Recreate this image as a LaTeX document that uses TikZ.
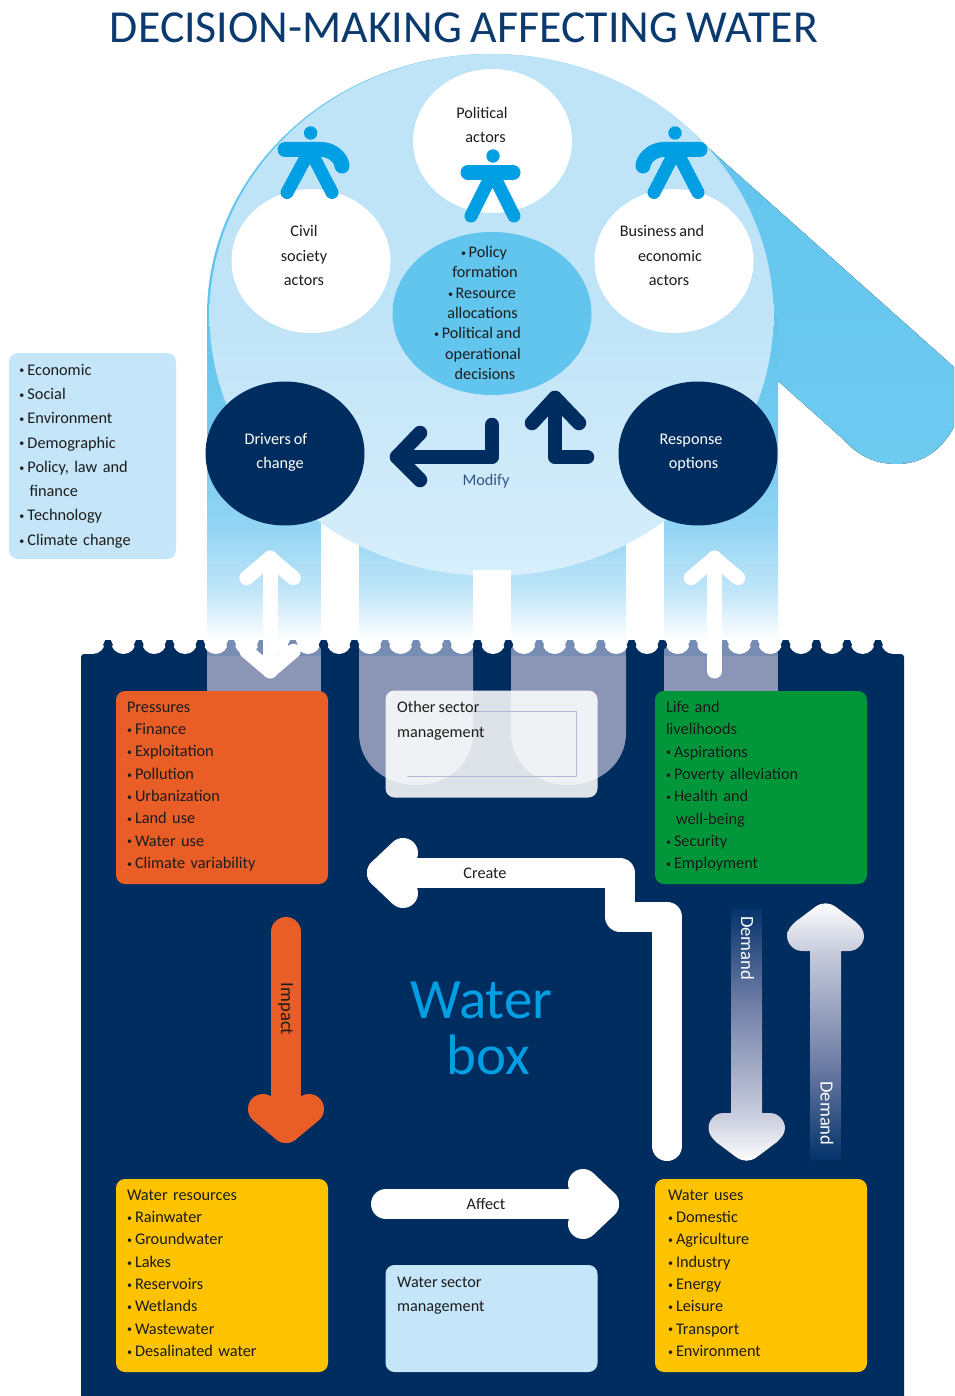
\documentclass[tikz,border=0pt]{standalone}
\usepackage{fontspec}
\setmainfont[WordSpace=0.85]{Carlito}
\usetikzlibrary{shapes.geometric}
\definecolor{navy}{HTML}{002D5F}
\definecolor{titleblue}{HTML}{0B3A6E}
\definecolor{skyA}{HTML}{62C5EE}
\definecolor{skyB}{HTML}{BFE4F7}
\definecolor{skyC}{HTML}{D8EEFB}
\definecolor{paleblue}{HTML}{C5E6F8}
\definecolor{person}{HTML}{009FE3}
\definecolor{orangeb}{HTML}{E95E26}
\definecolor{greenb}{HTML}{009639}
\definecolor{yellowb}{HTML}{FDC300}
\definecolor{tintA}{HTML}{8B96B6}
\definecolor{tintB}{HTML}{778DB3}
\definecolor{inkd}{HTML}{1C1C1C}
\definecolor{boxline}{HTML}{B0BCD4}
\definecolor{gA}{HTML}{C0E5F8}
\definecolor{gB}{HTML}{92D4F3}
\definecolor{gC}{HTML}{74CAF0}
\definecolor{dA}{HTML}{C8CCDC}
\definecolor{dB}{HTML}{6D7BA4}
\definecolor{dC}{HTML}{03336A}
\pgfdeclareverticalshading{colgrad}{100bp}{color(0bp)=(white); color(25bp)=(white); color(32.7bp)=(gA); color(42.7bp)=(gB); color(55.8bp)=(gC); color(75bp)=(skyA); color(100bp)=(skyA)}
\pgfdeclareverticalshading{demdown}{100bp}{color(0bp)=(white); color(25bp)=(white); color(34.5bp)=(dA); color(56.8bp)=(dB); color(75bp)=(dC); color(100bp)=(dC)}
\pgfdeclareverticalshading{demup}{100bp}{color(0bp)=(dC); color(25bp)=(dC); color(43.2bp)=(dB); color(65.5bp)=(dA); color(75bp)=(white); color(100bp)=(white)}
\newcommand\bul{\makebox[8pt][l]{\raisebox{1.2pt}{\fontsize{10}{10}\selectfont •}}}
\newcommand\cbul{\raisebox{1.2pt}{\fontsize{10}{10}\selectfont •}\,}
\tikzset{
  listbox/.style={rectangle,rounded corners=9pt,inner sep=0pt,align=left,text=inkd,anchor=center,font=\fontsize{16.3}{22.3}\selectfont},
  rowbox/.style={listbox,minimum width=212pt,minimum height=193pt,text width=190pt,execute at begin node={\rule{0pt}{11pt}},execute at end node={\rule[-5.2pt]{0pt}{0pt}}},
  oval/.style={ellipse,inner sep=0pt,minimum width=159pt,minimum height=144pt},
  lab/.style={inner sep=0pt,text=inkd,align=center,font=\fontsize{16.2}{24.2}\selectfont},
  tag/.style={inner sep=0pt,text=inkd,font=\fontsize{16.2}{18}\selectfont},
  sidetag/.style={inner sep=0pt,rotate=-90,font=\fontsize{18.6}{20}\selectfont},
  fatline/.style={line width=30pt,line cap=round,line join=round},
  thinarrow/.style={line width=14.5pt,line cap=round,line join=round},
  limb/.style={draw=person,line width=13pt,line cap=round,line join=round},
  bar/.style={draw=person,line width=15pt,line cap=round,line join=round}
}
\begin{document}
\begin{tikzpicture}[x=1pt,y=-1pt]
\useasboundingbox (0,0) rectangle (954,1396);
\fill[white] (0,0) rectangle (954,1396);
% sky shape behind the big disc
\fill[skyA] (490.5,315) ellipse [x radius=283.5,y radius=261];
\fill[top color=skyA,bottom color=skyA!92!white] (704,144) -- (954,367) -- (954,427) .. controls (942,450) and (922,464) .. (897,464) .. controls (878,464) and (860,458) .. (844,440) -- (778,381) -- (700,381) -- cycle;
\fill[shading=colgrad] (207,315) rectangle (778,640);
\fill[white] (321,480) rectangle (359,641);
\fill[white] (626,480) rectangle (664,641);
\node[ellipse,inner sep=0pt,minimum width=564pt,minimum height=522pt,top color=skyB,bottom color=skyC,middle color=skyB] (disc) at (491.5,315) {};
\fill[white] (473,570) rectangle (511,641);
% water
\fill[navy,rounded corners=3pt] (81,654) rectangle (904,1410);
\fill[navy] (92.6,640) rectangle (893.4,660);
\fill[tintB] (207,640) rectangle (321,656);
\fill[tintB] (664,640) rectangle (778,656);
\fill[tintB] (359,640) rectangle (473,656);
\fill[tintB] (511,640) rectangle (626,656);
\fill[tintA] (207,656) rectangle (321,692);
\fill[tintA] (664,656) rectangle (778,692);
\fill[tintA] (359,656) -- (359,733) .. controls (359,764) and (385,785) .. (416,785) .. controls (447,785) and (473,764) .. (473,733) -- (473,656) -- cycle;
\fill[tintA] (511,656) -- (511,733) .. controls (511,764) and (537,785) .. (568,785) .. controls (599,785) and (626,764) .. (626,733) -- (626,656) -- cycle;
\begin{scope}
\clip (70,640) rectangle (915,660);
\foreach \k in {-8,...,18} \fill[white] ({339+30.8*\k},641.5) circle [radius=12.5];
\end{scope}
\foreach \k in {-8,-7,-6,-5,-1,0,4,5,9,10,14,15,16,17} \fill[navy] ({354.4+30.8*\k},644.8) circle [radius=4.8];
\foreach \k in {-4,-3,-2,1,2,3,6,7,8,11,12,13} \fill[tintB] ({354.4+30.8*\k},644.8) circle [radius=4.8];
% title
\node[inner sep=0pt,text=titleblue,font=\fontsize{45.8}{46}\selectfont] (title) at (464,28) {DECISION-MAKING AFFECTING WATER};
% ovals
\node[oval,fill=white] (political) at (492.5,141) {};
\node[oval,fill=white] (civil) at (311,261) {};
\node[oval,fill=white] (business) at (674,261) {};
\node[ellipse,inner sep=0pt,minimum width=199pt,minimum height=163pt,fill=skyA] (decisions) at (492,313.5) {};
\node[oval,fill=navy] (drivers) at (285,453.5) {};
\node[oval,fill=navy] (response) at (698,453.5) {};
% persons
\fill[person] (493,156) circle [radius=6.7];
\draw[bar] (468,172.5) -- (513,172.5);
\draw[limb] (471,216) -- (492.5,173) -- (514,216);
\fill[person] (310.6,133) circle [radius=6.7];
\draw[bar] (285,149.5) -- (322,149.5) .. controls (334,150) and (342,160) .. (342,166);
\draw[limb] (287,192.5) -- (310,150) -- (332,192.5);
\fill[person] (675,133) circle [radius=6.7];
\draw[bar] (700,149.5) -- (663,149.5) .. controls (651,150) and (643,160) .. (643,166);
\draw[limb] (654,192.5) -- (676,150) -- (698,192.5);
% oval labels
\node[lab] (politicalT) at (484,125) {\hspace*{-4pt}Political\\\hspace*{3pt}actors};
\node[lab] (civilT) at (304,255.5) {Civil\\society\\actors};
\node[lab] (businessT) at (668,255.5) {\hspace*{-12pt}Business and\\\hspace*{4pt}economic\\\hspace*{2pt}actors};
\node[lab,font=\fontsize{16.2}{20.3}\selectfont] (decisionsT) at (483,313) {\hspace*{2pt}\cbul Policy\\\hspace*{4pt}formation\\\hspace*{-2pt}\cbul Resource\\\hspace*{-1pt}allocations\\\hspace*{-11pt}\cbul Political and\\operational\\\hspace*{4pt}decisions};
\node[lab,text=white] (driversT) at (278,452.5) {\hspace*{-4pt}Drivers of\\\hspace*{4pt}change};
\node[lab,text=white] (responseT) at (692,452.5) {\hspace*{-2pt}Response\\\hspace*{3pt}options};
% modify arrows
\coordinate (mA) at (492,425); \coordinate (mB) at (492,457); \coordinate (mC) at (397,457);
\draw[navy,thinarrow] (mA) -- (mB) -- (mC);
\draw[navy,thinarrow] (420,433) -- (mC) -- (420,480);
\coordinate (nA) at (587,457); \coordinate (nB) at (555,457); \coordinate (nC) at (555,398);
\draw[navy,thinarrow] (nA) -- (nB) -- (nC);
\draw[navy,thinarrow] (532,423) -- (nC) -- (579,423);
\node[tag,text=titleblue!85!white] (modify) at (486,481) {Modify};
% boxes
\node[listbox,fill=paleblue,minimum width=167pt,minimum height=206pt,text width=146pt,font=\fontsize{16.3}{24.3}\selectfont] (drivlist) at (92.5,456) {\bul Economic\\\bul Social\\\bul Environment\\\bul Demographic\\\bul Policy, law and\\\hspace*{10pt}finance\\\bul Technology\\\bul Climate change};
\node[rowbox,fill=orangeb] (pressures) at (222,787.5) {Pressures\\\bul Finance\\\bul Exploitation\\\bul Pollution\\\bul Urbanization\\\bul Land use\\\bul Water use\\\bul Climate variability};
\node[rowbox,fill=greenb] (life) at (761,787.5) {Life and\\livelihoods\\\bul Aspirations\\\bul Poverty alleviation\\\bul Health and\\\hspace*{10pt}well-being\\\bul Security\\\bul Employment};
\node[rowbox,fill=yellowb] (resources) at (222,1275.5) {Water resources\\\bul Rainwater\\\bul Groundwater\\\bul Lakes\\\bul Reservoirs\\\bul Wetlands\\\bul Wastewater\\\bul Desalinated water};
\node[rowbox,fill=yellowb,text width=186pt] (uses) at (761,1275.5) {Water uses\\\bul Domestic\\\bul Agriculture\\\bul Industry\\\bul Energy\\\bul Leisure\\\bul Transport\\\bul Environment};
\node[rectangle,rounded corners=9pt,inner sep=0pt,fill=paleblue,minimum width=212pt,minimum height=107pt] (watersector) at (491.5,1318.5) {};
\node[lab,align=left,anchor=north west] (watersectorT) at (397,1277) {Water sector\\management};
\node[rectangle,rounded corners=9pt,inner sep=0pt,fill=white,fill opacity=0.87,minimum width=212pt,minimum height=107pt] (othersector) at (491.5,744) {};
\draw[boxline,line width=0.7pt] (407,776) -- (576,776) -- (576,711) -- (470,711);
\node[lab,align=left,anchor=north west] (othersectorT) at (397,701.5) {Other sector\\management};
% white arrows across the surface
\coordinate (dnA) at (270,558); \coordinate (dnB) at (270,671);
\draw[white,line width=15pt,line cap=round] (dnA) -- (dnB);
\draw[white,thinarrow] (246.5,578) -- (dnA) -- (293.5,578);
\draw[white,thinarrow] (246.5,651) -- (dnB) -- (293.5,651);
\coordinate (rA) at (714.5,671); \coordinate (rB) at (714.5,558);
\draw[white,line width=15pt,line cap=round] (rA) -- (rB);
\draw[white,thinarrow] (691,578) -- (rB) -- (738,578);
% create
\coordinate (cA) at (667,1146); \coordinate (cB) at (667,916.5); \coordinate (cC) at (620,916.5); \coordinate (cD) at (620,873); \coordinate (cE) at (382,873);
\draw[white,fatline] (cA) -- (cB) -- (cC) -- (cD) -- (cE);
\draw[white,fatline] (403,853) -- (cE) -- (403,893);
\node[tag] (create) at (485,873) {Create};
% affect
\coordinate (aA) at (386,1204); \coordinate (aB) at (604,1204);
\draw[white,fatline] (aA) -- (aB);
\draw[white,fatline] (583,1184) -- (aB) -- (583,1224);
\node[tag] (affect) at (486,1204) {Affect};
% impact
\coordinate (iA) at (286,932); \coordinate (iB) at (286,1128);
\draw[orangeb,fatline] (iA) -- (iB);
\draw[orangeb,fatline] (263,1109) -- (iB) -- (309,1109);
\node[sidetag,text=inkd] (impact) at (285.5,1009) {Impact};
% demand
\fill[shading=demdown] (731,908) -- (731,1113) -- (723,1113) .. controls (714,1113) and (708.5,1121) .. (708.5,1128) .. controls (708.5,1134) and (712,1138) .. (716,1142) -- (736,1157) .. controls (743,1162) and (750,1162) .. (757,1157) -- (777,1142) .. controls (781,1138) and (785,1134) .. (785,1128) .. controls (785,1121) and (779,1113) .. (770,1113) -- (762,1113) -- (762,908) -- cycle;
\fill[shading=demup] (810,1160) -- (810,951) -- (802,951) .. controls (793,951) and (787,943) .. (787,936) .. controls (787,930) and (791,926) .. (795,922) -- (815,907) .. controls (822,902) and (829,902) .. (836,907) -- (856,922) .. controls (860,926) and (864,930) .. (864,936) .. controls (864,943) and (858,951) .. (849,951) -- (841,951) -- (841,1160) -- cycle;
\node[sidetag,text=white] (demandA) at (747.5,948) {Demand};
\node[sidetag,text=white] (demandB) at (827,1113.5) {Demand};
% water box
\node[inner sep=0pt,text=person,align=center,font=\fontsize{57}{56}\selectfont] (waterbox) at (485,1028) {\hspace*{-7pt}Water\\\hspace*{7pt}box};
\end{tikzpicture}
\end{document}
